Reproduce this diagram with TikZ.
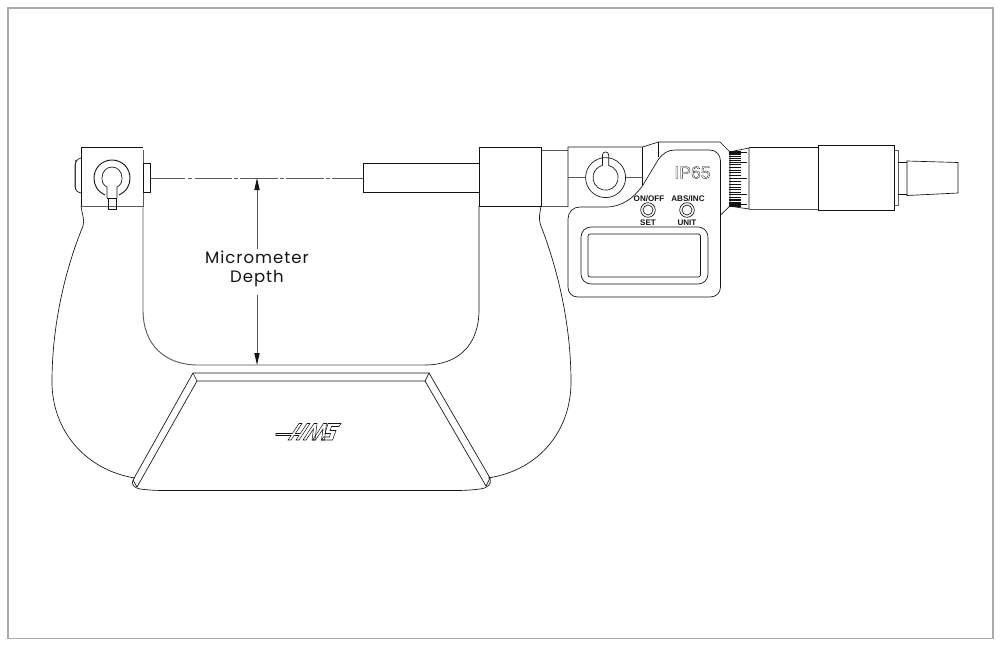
\documentclass[tikz,border=0pt]{standalone}
\usepackage{fontspec}
\setmainfont{Liberation Sans}
\newfontfamily\lblfont[LetterSpace=6]{Poppins}
\usetikzlibrary{arrows.meta}
\definecolor{frm}{RGB}{170,170,170}
\definecolor{ink}{RGB}{20,20,20}
\definecolor{dim}{RGB}{90,90,90}
\tikzset{
  x=0.5mm,y=-0.5mm,
  ln/.style={draw=ink,line width=0.95pt,fill=none},
  fl/.style={draw=ink,line width=0.95pt,fill=white},
  thk/.style={draw=ink,line width=1.3pt},
  gr/.style={draw=dim,line width=1.3pt},
  lbl/.style={font=\lblfont\fontsize{23.5}{27}\selectfont,text=ink,align=center,inner sep=0pt},
  btn/.style={font=\bfseries\fontsize{11.5}{11.5}\selectfont,text=ink,inner sep=0pt},
  dimarrow/.style={draw=dim,line width=1.3pt,-{Stealth[length=6mm,width=2.6mm,inset=0pt,color=ink]}},
  knurl/.style={draw=ink,line width=0.9pt},
  logo/.style={draw=ink,line width=0.75pt,line join=miter}
}
\begin{document}
\begin{tikzpicture}
\useasboundingbox (0,0) rectangle (1001,644);
\fill[white] (0,0) rectangle (1001,644);
\draw[frm,line width=2.7pt] (8,8) rectangle (993,638.5);

% body
\draw[ln] (81,206) .. controls (82,214) and (85,220) .. (83,226) .. controls (65,270) and (52,325) .. (52,382) .. controls (52,430) and (85,470) .. (135,478);
\draw[ln] (541,206) .. controls (540,214) and (538,218) .. (541,226) .. controls (558,270) and (571,325) .. (571,382) .. controls (571,430) and (540,470) .. (488,478);
\draw[gr] (143,206) -- (143,310) .. controls (143,345) and (165,365) .. (198,365) -- (425,365);
\draw[ln] (425,365) .. controls (458,365) and (479,345) .. (479,310) -- (479,206);

% plate
\draw[ln] (193,373) -- (429,373) -- (490,478) .. controls (492,484) and (488,488) .. (480,489) .. controls (472,490) and (465,490.5) .. (455,490.5) -- (165,490.5) .. controls (155,490.5) and (148,490) .. (140,489) .. controls (134,488) and (131,484) .. (133,480) -- cycle;
\draw[ln] (197,381) -- (425,381) -- (486,486);
\draw[ln] (197,381) -- (137,487);
\draw[ln] (193,373) -- (197,381) (429,373) -- (425,381) (490,478) -- (486,486) (133,480) -- (137,487);

% HAAS logo
\begin{scope}[shift={(308,432)}]
 \draw[logo] (-32,1.5) -- (-15.67,1.5) -- (-9,-8.5) -- (-6,-8.5) -- (-12.67,1.5) -- (-7.67,1.5) -- (-1,-8.5) -- (2,-8.5) -- (-9,8) -- (-12,8) -- (-9,3.5) -- (-14,3.5) -- (-17,8) -- (-20,8) -- (-17,3.5) -- (-32,3.5) -- cycle;
 \draw[logo] (-5,8) -- (6,-8.5) -- (9,-8.5) -- (7,8) -- (4,8) -- (5.5,-3) -- (-2,8) -- cycle;
 \draw[logo] (4.5,8) -- (15.5,-8.5) -- (18.5,-8.5) -- (16.5,8) -- (13.5,8) -- (15,-3) -- (7.5,8) -- cycle;
 \draw[logo] (20,-8.5) -- (33,-8.5) -- (31,-5.5) -- (23.5,-5.5) -- (22,-1.5) -- (28,-1.5) -- (24.5,8) -- (13.5,8) -- (15.5,5) -- (21.5,5) -- (22.5,1.5) -- (17,1.5) -- cycle;
\end{scope}

% spindle and collars
\draw[ln] (363,163) rectangle (479,192);
\draw[ln] (479,147) rectangle (541.5,206);
\draw[gr] (541.5,150.5) -- (568,150.5);
\draw[gr] (541.5,206) -- (568,206);

% left block
\draw[gr] (143,150) -- (143,206) -- (81,206);
\draw[thk] (81,206) -- (81,147) -- (143,147);
\draw[ln] (143,163) rectangle (150.5,192);
\draw[gr] (75,160) -- (75,190);
\draw[ln] (81,158) .. controls (77,159) and (75,162) .. (75,165) -- (75,187) .. controls (75,190) and (77,192) .. (81,193);
\draw[thk] (105,195) .. controls (97,191) and (94,185) .. (94,178) .. controls (94,168) and (102,160) .. (112,160) .. controls (122,160) and (130,168) .. (130,178) .. controls (130,185) and (127,191) .. (119,195);
\draw[ln] (107,198) -- (107,187) .. controls (103,185) and (102,182) .. (102,178) .. controls (102,172) and (106,167) .. (112,167) .. controls (118,167) and (122,172) .. (122,178) .. controls (122,182) and (121,185) .. (117,187) -- (117,198);
\draw[ln] (108,198) -- (108,209) -- (116,209) -- (116,198) -- cycle;
\draw[ln] (107,198) -- (117,198);

% centre line
\coordinate (cl0) at (151,178); \coordinate (cl1) at (363,178);
\draw[gr] (cl0) -- (185,178) (188,178) -- (192,178) (195,178) -- (232,178) (234,178) -- (238,178) (240,178) -- (278,178) (280,178) -- (284,178) (286,178) -- (324,178) (326,178) -- (330,178) (332,178) -- (cl1);

% dimension
\node[lbl] (depth) at (257,268.5) {Micrometer\\Depth};
\coordinate (dtop) at (257,178); \coordinate (dbot) at (257,365);
\draw[dimarrow] (257,249) -- (dtop);
\draw[dimarrow] (257,295) -- (dbot);

% display head
\draw[ln] (568,207) -- (568,147) -- (642.6,147) -- (658.5,142) -- (720,142) -- (730,152) -- (730,206) -- (720.5,215);
\draw[ln] (642.6,147) -- (642.6,190);
\draw[ln] (658.5,142) -- (658.5,157);
\draw[gr] (568,177) -- (586,177) (625,177) -- (642.6,177);
\draw[fl] (605.6,177.6) circle (20);
\draw[ln] (602.5,165.4) -- (602.5,155) arc[start angle=180,end angle=360,radius=3.1] -- (608.7,165.4) arc[start angle=-75.7,end angle=255.7,radius=12.6];
\draw[fl] (580,207) -- (606,207) .. controls (622,207) and (634,198) .. (643,185) -- (658,160) .. controls (663,153) and (668,150) .. (675,150) -- (710,150) .. controls (716,150) and (720.5,155) .. (720.5,161) -- (720.5,287) .. controls (720.5,293) and (716,297) .. (710,297) -- (578,297) .. controls (572,297) and (568,293) .. (568,287) -- (568,219) .. controls (568,212) and (573,207) .. (580,207) -- cycle;
\draw[ln] (581,237) arc[start angle=180,end angle=270,radius=10] -- (698,227) arc[start angle=-90,end angle=0,radius=10] -- (708,274) arc[start angle=0,end angle=90,radius=10] -- (591,284) arc[start angle=90,end angle=180,radius=10] -- cycle;
\draw[ln,rounded corners=3] (588,234) rectangle (700.5,277);
\draw[ln] (648,210) circle (7.3) (648,210) circle (5);
\draw[ln] (687,210) circle (7.3) (687,210) circle (5);
\node[btn] (onoff) at (649,199) {ON/OFF};
\node[btn] (absinc) at (688,199) {ABS/INC};
\node[btn] (setb) at (648,222.5) {SET};
\node[btn] (unitb) at (687,222.5) {UNIT};
\node[inner sep=0pt,font=\fontsize{25}{25}\selectfont,text=ink] (ip) at (692.5,172.5) {\special{pdf:code 1 Tr 0.45 w}IP65\special{pdf:code 0 Tr}};

% knurl
\draw[ln] (729,152) -- (749,148) -- (749,209) -- (729,206);
\foreach \t in {-84,-78,...,84}{\draw[knurl] (729,{178.5+27.5*sin(\t)}) -- (741,{178.5+27.5*sin(\t)});}
\foreach \t in {-72,-36,0,36,72}{\draw[knurl] (729,{178.5+27.5*sin(\t)}) -- (747,{178.5+27.5*sin(\t)});}
\draw[ln] (749,147.5) -- (818,147.5);
\draw[gr] (749,209) -- (818,209);
\draw[thk] (818,145) rectangle (894.5,210.5);
\draw[gr] (894.5,150.5) -- (898,150.5) -- (898,205.5) -- (894.5,205.5);
\draw[ln] (898,162) -- (907,162) (898,194.5) -- (907,194.5);
\draw[ln] (907,161) -- (958,162.5) -- (958,193) -- (907,195.5) -- cycle;
\end{tikzpicture}
\end{document}
